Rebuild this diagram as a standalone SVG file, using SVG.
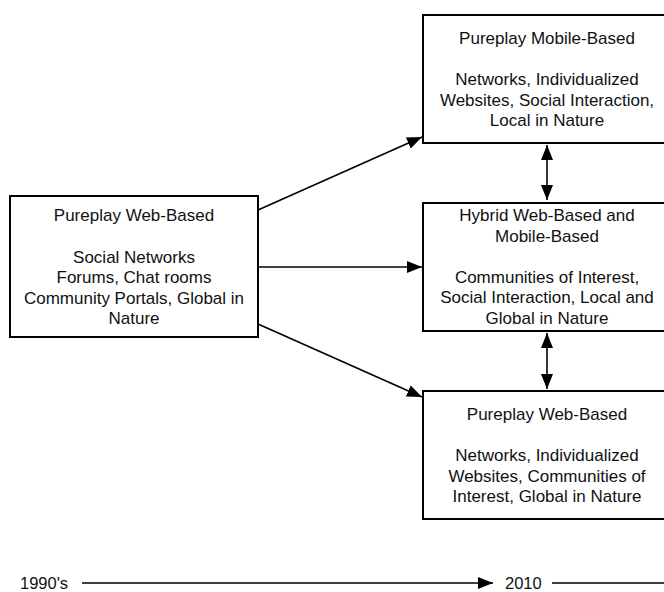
<svg xmlns="http://www.w3.org/2000/svg" width="664" height="592" viewBox="0 0 664 592">
  <defs>
    <marker id="head" markerUnits="userSpaceOnUse" markerWidth="16" markerHeight="13" refX="15" refY="6" orient="auto-start-reverse">
      <path d="M0,0 L15,6 L0,12 z" fill="#000"/>
    </marker>
    <style>
      .box { fill: #fff; stroke: #000; stroke-width: 2; }
      .lbl { font-family: "Liberation Sans", Arial, Helvetica, sans-serif; font-size: 17px; fill: #111; text-anchor: middle; }
      .tl { font-family: "Liberation Sans", Arial, Helvetica, sans-serif; font-size: 16.5px; fill: #111; }
      .conn { stroke: #000; stroke-width: 1.6; fill: none; }
    </style>
  </defs>
  <rect width="664" height="592" fill="#fff"/>

  <g id="connectors">
    <line class="conn" x1="258" y1="210" x2="422" y2="137" marker-end="url(#head)"/>
    <line class="conn" x1="258" y1="267" x2="422" y2="267" marker-end="url(#head)"/>
    <line class="conn" x1="258" y1="324" x2="422" y2="397" marker-end="url(#head)"/>
    <line class="conn" x1="547" y1="145" x2="547" y2="200" marker-start="url(#head)" marker-end="url(#head)"/>
    <line class="conn" x1="547" y1="333" x2="547" y2="389" marker-start="url(#head)" marker-end="url(#head)"/>
  </g>

  <g id="web-based-origin">
    <rect class="box" x="10" y="196" width="248" height="141"/>
    <text class="lbl" x="134" y="221">Pureplay Web-Based</text>
    <text class="lbl" x="134" y="262.5">Social Networks</text>
    <text class="lbl" x="134" y="283">Forums, Chat rooms</text>
    <text class="lbl" x="134" y="303.5">Community Portals, Global in</text>
    <text class="lbl" x="134" y="324">Nature</text>
  </g>

  <g id="mobile-based">
    <rect class="box" x="423" y="15" width="248" height="128"/>
    <text class="lbl" x="547" y="43.5">Pureplay Mobile-Based</text>
    <text class="lbl" x="547" y="85">Networks, Individualized</text>
    <text class="lbl" x="547" y="105.5">Websites, Social Interaction,</text>
    <text class="lbl" x="547" y="126">Local in Nature</text>
  </g>

  <g id="hybrid">
    <rect class="box" x="423" y="203" width="248" height="128"/>
    <text class="lbl" x="547" y="221">Hybrid Web-Based and</text>
    <text class="lbl" x="547" y="241.5">Mobile-Based</text>
    <text class="lbl" x="547" y="282.5">Communities of Interest,</text>
    <text class="lbl" x="547" y="303">Social Interaction, Local and</text>
    <text class="lbl" x="547" y="323.5">Global in Nature</text>
  </g>

  <g id="web-based-2010">
    <rect class="box" x="423" y="391" width="248" height="128"/>
    <text class="lbl" x="547" y="420">Pureplay Web-Based</text>
    <text class="lbl" x="547" y="461">Networks, Individualized</text>
    <text class="lbl" x="547" y="481.5">Websites, Communities of</text>
    <text class="lbl" x="547" y="502">Interest, Global in Nature</text>
  </g>

  <g id="timeline">
    <text class="tl" x="20" y="589">1990's</text>
    <line class="conn" x1="82" y1="583" x2="493" y2="583" marker-end="url(#head)"/>
    <text class="tl" x="505" y="589">2010</text>
    <line class="conn" x1="552" y1="583" x2="664" y2="583"/>
  </g>
</svg>
